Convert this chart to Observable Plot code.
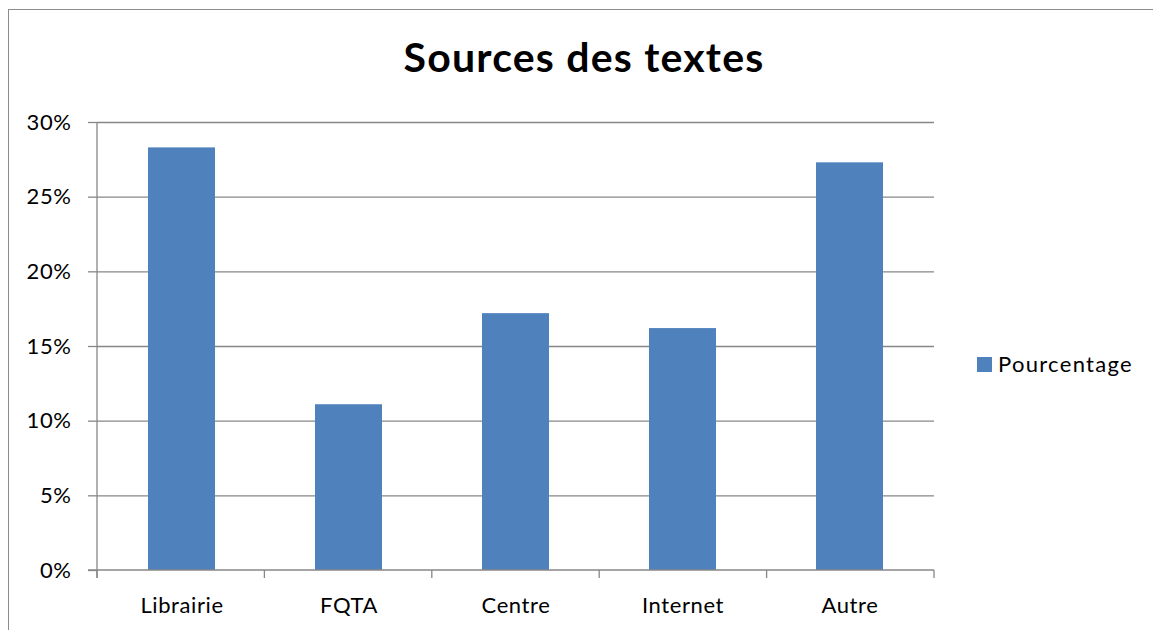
<!DOCTYPE html>
<html><head><meta charset="utf-8">
<script src="https://cdn.jsdelivr.net/npm/d3@7"></script>
<script src="https://cdn.jsdelivr.net/npm/@observablehq/plot@0.6"></script>
<style>
body{margin:0;background:#fff;overflow:hidden;font-family:Lato,sans-serif}
#wrap{position:relative;width:1153px;height:630px;overflow:hidden}
#border{position:absolute;left:8px;top:9px;width:1200px;height:700px;border:1.5px solid #8c8c8c}
#chart{position:absolute;left:0;top:0}
#chart svg text{letter-spacing:0.6px}
#title{position:absolute;left:0;width:1168px;top:32px;text-align:center;font-weight:bold;font-size:41px;letter-spacing:1.2px;color:#000;line-height:50px}
#legend{position:absolute;left:977px;top:352px;font-size:22px;letter-spacing:1.3px;display:flex;align-items:center;color:#000;line-height:24px}
#legend .sw{width:15px;height:15px;background:#4F81BD;margin-right:6px;display:inline-block}
</style></head><body>
<div id="wrap"><div id="border"></div><div id="chart"></div><div id="title"></div><div id="legend"><span class="sw"></span><span id="lt"></span></div></div>
<script>
const title = "Sources des textes";
const seriesName = "Pourcentage";
const categories = ["Librairie", "FQTA", "Centre", "Internet", "Autre"];
const values = [28.3, 11.1, 17.2, 16.2, 27.3];
const yTicks = [0, 5, 10, 15, 20, 25, 30];

const axisColor = "#878787";
const barColor = "#4F81BD";
const data = categories.map((c, i) => ({category: c, value: values[i]}));

document.getElementById("title").textContent = title;
document.getElementById("lt").textContent = seriesName;

function axisLines(index, scales, vals, dim) {
  const g = d3.create("svg:g").attr("stroke", axisColor).attr("stroke-width", 1.3).attr("fill", "none");
  const x0 = dim.marginLeft, x1 = dim.width - dim.marginRight;
  const yb = scales.y(0), yt = scales.y(yTicks[yTicks.length - 1]);
  g.append("line").attr("x1", x0).attr("x2", x0).attr("y1", yt).attr("y2", yb + 8);
  g.append("line").attr("x1", x0 - 9).attr("x2", x1).attr("y1", yb).attr("y2", yb);
  const n = categories.length, step = (x1 - x0) / n;
  for (let i = 0; i <= n; i++) {
    g.append("line").attr("x1", x0 + i * step).attr("x2", x0 + i * step).attr("y1", yb).attr("y2", yb + 8);
  }
  return g.node();
}

const chart = Plot.plot({
  width: 1153, height: 630,
  marginLeft: 97, marginRight: 219, marginTop: 122, marginBottom: 60,
  style: {fontFamily: "Lato, sans-serif", fontSize: "22px", color: "#000", background: "transparent", overflow: "visible"},
  x: {domain: categories, paddingInner: 0.6, paddingOuter: 0.3, label: null},
  y: {domain: [0, 30], label: null},
  marks: [
    Plot.gridY(yTicks.slice(1), {stroke: axisColor, strokeOpacity: 1, strokeWidth: 1.3}),
    Plot.barY(data, {x: "category", y: "value", fill: barColor}),
    Plot.axisY(yTicks, {tickSize: 9, tickPadding: 17, tickFormat: d => d + "%", stroke: axisColor, strokeWidth: 1.3, label: null, fontSize: 22}),
    Plot.axisX({tickSize: 0, tickPadding: 27, label: null, fontSize: 22}),
    axisLines
  ]
});
document.getElementById("chart").appendChild(chart);
</script>
</body></html>
